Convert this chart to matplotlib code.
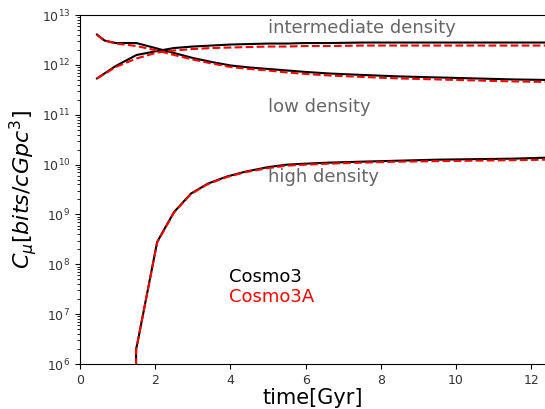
import numpy as np
import matplotlib
matplotlib.use("Agg")
import matplotlib.pyplot as plt

# time grid (Gyr)
t = [0.45, 0.65, 0.95, 1.5, 2.05, 2.5, 3.0, 3.5, 4.0, 4.5, 5.0, 5.5, 6.0, 6.6, 7.5, 8.5, 9.5, 10.5, 11.5, 12.4]

# log10 values
low3 = [12.61, 12.49, 12.44, 12.44, 12.33, 12.24, 12.14, 12.06, 11.99, 11.95, 11.92, 11.89, 11.86, 11.83, 11.80, 11.77, 11.75, 11.73, 11.71, 11.70]
low3A = [12.60, 12.49, 12.43, 12.38, 12.29, 12.20, 12.11, 12.03, 11.96, 11.92, 11.89, 11.85, 11.82, 11.79, 11.76, 11.73, 11.71, 11.69, 11.67, 11.66]
int3 = [11.73, 11.83, 11.98, 12.20, 12.28, 12.34, 12.37, 12.39, 12.41, 12.42, 12.43, 12.43, 12.44, 12.44, 12.45, 12.45, 12.45, 12.45, 12.45, 12.45]
int3A = [11.73, 11.82, 11.96, 12.13, 12.25, 12.29, 12.32, 12.34, 12.35, 12.36, 12.37, 12.37, 12.38, 12.38, 12.39, 12.39, 12.39, 12.39, 12.39, 12.39]

t_high = [1.48, 1.49, 1.52, 2.05, 2.5, 2.95, 3.4, 3.9, 4.4, 5.0, 5.5, 6.0, 6.6, 7.5, 8.5, 9.5, 10.5, 11.5, 12.4]
high3 = [4.0, 6.30, 6.40, 8.45, 9.05, 9.42, 9.62, 9.76, 9.86, 9.95, 10.00, 10.02, 10.04, 10.06, 10.08, 10.10, 10.11, 10.12, 10.14]
high3A = [4.0, 6.30, 6.40, 8.44, 9.04, 9.41, 9.61, 9.75, 9.85, 9.93, 9.98, 10.00, 10.02, 10.04, 10.06, 10.07, 10.08, 10.09, 10.10]

fig = plt.figure(figsize=(5.45, 4.09), dpi=100)
ax = fig.add_axes([0.147, 0.110, 0.853, 0.853])

p = lambda a: 10.0 ** np.array(a)
for x, y in [(t, low3), (t, int3), (t_high, high3)]:
    ax.plot(x, p(y), color='black', lw=1.5)
for x, y in [(t, low3A), (t, int3A), (t_high, high3A)]:
    ax.plot(x, p(y), color='red', lw=1.5, ls='--')

ax.set_yscale('log')
ax.set_ylim(1e6, 1e13)
ax.set_xlim(0, 12.37)
ax.set_xticks([0, 2, 4, 6, 8, 10, 12])
ax.tick_params(labelsize=9, labelcolor='#333333')
ax.spines['right'].set_visible(False)

gray = '#666666'
ax.text(5.0, 10**12.74, 'intermediate density', color=gray, fontsize=13, va='center')
ax.text(5.0, 10**11.15, 'low density', color=gray, fontsize=13, va='center')
ax.text(5.0, 10**9.75, 'high density', color=gray, fontsize=13, va='center')
ax.text(3.97, 10**7.74, 'Cosmo3', color='black', fontsize=13, va='center')
ax.text(3.97, 10**7.34, 'Cosmo3A', color='red', fontsize=13, va='center')

ax.set_xlabel('time[Gyr]', fontsize=15, labelpad=1)
ax.set_ylabel(r'$C_{\mu}[bits/cGpc^3]$', fontsize=16, labelpad=2)

fig.savefig('out.png', dpi=100)
